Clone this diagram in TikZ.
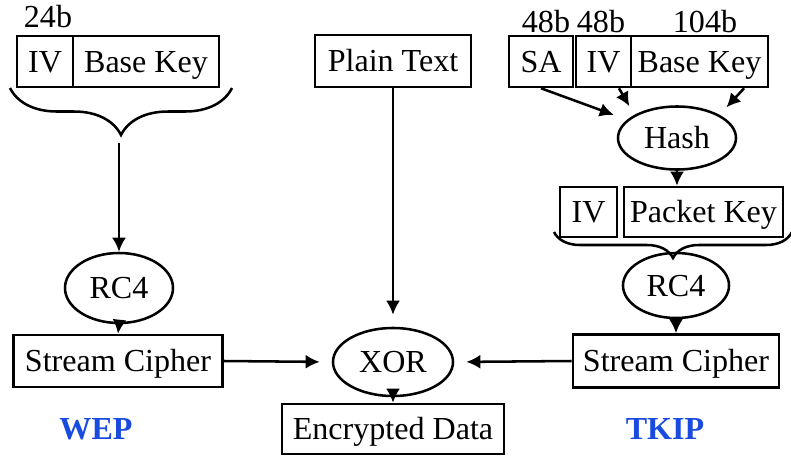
\documentclass[tikz,border=0pt]{standalone}
\usepackage{fontspec}
\setmainfont{Liberation Serif}
\usetikzlibrary{shapes.geometric,arrows.meta,decorations.pathreplacing}
\definecolor{tagblue}{RGB}{25,75,225}
\tikzset{
  box/.style={draw, rectangle, inner sep=0pt, minimum height=1.275cm, text height=15pt, text depth=0pt},
  oval/.style={draw, ellipse, inner sep=0pt, text height=15pt, text depth=0pt},
  bits/.style={inner sep=0pt},
  tag/.style={inner sep=0pt, font=\fontsize{22.8}{26}\selectfont\bfseries, text=tagblue},
  curly/.style={decorate, decoration={brace, mirror, amplitude=#1}},
}
\begin{document}
\begin{tikzpicture}[x=0.025cm, y=-0.025cm, line width=1.8pt,
    >={Latex[length=10pt,width=10pt]}, font=\fontsize{22.8}{26}\selectfont]
  \useasboundingbox (0,0) rectangle (791,455);
  % WEP side
  \node[bits] (lbits) at (48,17) {24b};
  \node[box, minimum width=1.4cm] (liv) at (45,61.5) {IV};
  \node[box, minimum width=3.65cm] (lkey) at (146,61.5) {Base Key};
  \draw[curly=1.175cm] (10,88) -- (232,88);
  \coordinate (lfrom) at (119,143);
  \node[oval, minimum width=2.7cm, minimum height=1.75cm] (lrc4) at (119,288) {RC4};
  \node[box, minimum width=5.225cm, minimum height=1.3cm] (lstream) at (118,361) {Stream Cipher};
  \node[tag] (wep) at (96,429) {WEP};
  % middle
  \node[box, minimum width=3.9cm, minimum height=1.3cm] (plain) at (393,61) {Plain Text};
  \node[oval, minimum width=3cm, minimum height=1.7cm] (xor) at (393,362) {XOR};
  \node[box, minimum width=5.55cm, minimum height=1.25cm] (enc) at (393,429) {Encrypted Data};
  % TKIP side
  \node[bits] (sabits) at (546,22) {48b};
  \node[bits] (ivbits) at (601,22) {48b};
  \node[bits] (keybits) at (705,22) {104b};
  \node[box, minimum width=1.6cm] (sa) at (541,61.5) {SA};
  \node[box, minimum width=1.375cm] (riv) at (603.5,61.5) {IV};
  \node[box, minimum width=3.425cm] (rkey) at (699.5,61.5) {Base Key};
  \node[oval, minimum width=2.95cm, minimum height=1.575cm] (hash) at (677,138) {Hash};
  \node[box, minimum width=1.425cm, minimum height=1.25cm] (piv) at (588.5,212) {IV};
  \node[box, minimum width=3.975cm, minimum height=1.25cm] (pkey) at (703.5,212) {Packet Key};
  \draw[curly=0.65cm] (554,232) -- (792,232);
  \node[oval, minimum width=2.65cm, minimum height=1.625cm] (rrc4) at (676,285.5) {RC4};
  \node[box, minimum width=5.15cm, minimum height=1.325cm] (rstream) at (676,361) {Stream Cipher};
  \node[tag] (tkip) at (665,429) {TKIP};
  % arrows
  \draw[->] (lfrom) -- (lrc4.north);
  \draw[->] (lrc4.south) -- (lstream.north);
  \draw[->, shorten >=0.3cm] (lstream.east) -- (xor.west);
  \draw[->, shorten >=0.3cm] (plain.south) -- (xor.north);
  \draw[->, shorten >=0.3cm] (rstream.west) -- (xor.east);
  \draw[->] (xor.south) -- (enc.north);
  \draw[->, shorten >=0.35cm] (sa.south) -- (hash);
  \draw[->, shorten >=0.25cm] (riv.-60) -- (hash.north west);
  \draw[->, shorten >=0.25cm] (rkey.-31) -- (hash.north east);
  \draw[->] (hash.south) -- (hash.south |- pkey.north);
  \draw[->] (rrc4.south) -- (rstream.north);
\end{tikzpicture}
\end{document}
